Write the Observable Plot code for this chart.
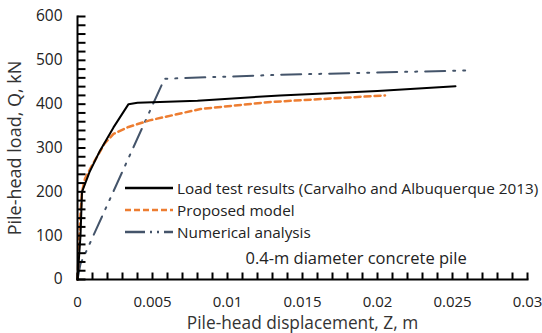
<!DOCTYPE html>
<html>
<head>
<meta charset="utf-8">
<script src="https://cdn.jsdelivr.net/npm/d3@7"></script>
<script src="https://cdn.jsdelivr.net/npm/@observablehq/plot@0.6"></script>
<style>
  html, body { margin: 0; padding: 0; background: #fff; }
  #chart { position: relative; width: 542px; height: 333px; font-family: "Open Sans", sans-serif; background: #fff; }
  #chart svg { font-family: "Open Sans", sans-serif; color: #222; }
  #legend { position: absolute; left: 125px; top: 177px; width: 417px; font-size: 15.3px; color: #222; }
  #legend .row { display: flex; align-items: center; height: 22px; white-space: nowrap; }
  #legend svg { width: 48px; height: 10px; margin-right: 4px; flex: none; }
</style>
</head>
<body>
<div id="chart"></div>
<script>
// Load test results (Carvalho and Albuquerque 2013)
const loadZ = [0, 0.0001, 0.0002, 0.0003, 0.0008, 0.0015, 0.0024, 0.0034, 0.004, 0.008, 0.0135, 0.02, 0.0252];
const loadQ = [0, 50, 100, 200, 245, 294, 347, 400, 403, 408, 420, 430, 441];
// Proposed model
const propZ = [0, 0.0001, 0.0002, 0.0003, 0.0005, 0.0009, 0.0018, 0.0024, 0.0034, 0.0048, 0.0082, 0.0129, 0.0205];
const propQ = [0, 80, 150, 200, 230, 256, 310, 332, 348, 363, 389, 405, 420];
// Numerical analysis
const numZ = [0, 0.0002, 0.0005, 0.0058, 0.0135, 0.026];
const numQ = [0, 36, 58, 458, 467, 477];

const xTicks = [0, 0.005, 0.01, 0.015, 0.02, 0.025, 0.03];
const xMinor = d3.range(0, 31).map(i => i / 1000);
const yTicks = [0, 100, 200, 300, 400, 500, 600];
const yMinor = d3.range(0, 601, 20);

const seriesNames = ["Load test results (Carvalho and Albuquerque 2013)", "Proposed model", "Numerical analysis"];
const xLabel = "Pile-head displacement, Z, m";
const yLabel = "Pile-head load, Q, kN";
const note = "0.4-m diameter concrete pile";

const toRows = (zs, qs) => zs.map((z, i) => ({z, q: qs[i]}));
const load = toRows(loadZ, loadQ);
const prop = toRows(propZ, propQ);
const num = toRows(numZ, numQ);

const W = 542, H = 333, ML = 77, MR = 15, MT = 16, MB = 54;
const xDomain = [0, 0.03], yDomain = [0, 600];
// tick lengths converted from pixels to data units via the scale spans
const xTickLen = 7 * (yDomain[1] - yDomain[0]) / (H - MT - MB);
const yTickLen = 8 * (xDomain[1] - xDomain[0]) / (W - ML - MR);

const plot = Plot.plot({
  width: W,
  height: H,
  marginLeft: ML,
  marginRight: MR,
  marginTop: MT,
  marginBottom: MB,
  x: {domain: xDomain},
  y: {domain: yDomain},
  marks: [
    Plot.axisX({ticks: xTicks, tickSize: 0, tickPadding: 17, tickFormat: d => String(d), label: null, fontSize: 15}),
    Plot.axisY({ticks: yTicks, tickSize: 0, tickPadding: 15, label: null, fontSize: 15.5}),
    Plot.line(num, {x: "z", y: "q", stroke: "#44546A", strokeWidth: 2, strokeDasharray: "20,8,2,8,2,8"}),
    Plot.line(prop, {x: "z", y: "q", stroke: "#ED7D31", strokeWidth: 2.5, strokeDasharray: "6,4"}),
    Plot.line(load, {x: "z", y: "q", stroke: "#000", strokeWidth: 2}),
    Plot.frame({anchor: "left", stroke: "black", strokeWidth: 2}),
    Plot.frame({anchor: "bottom", stroke: "black", strokeWidth: 2}),
    Plot.link(xMinor, {x1: d => d, x2: d => d, y1: yDomain[0], y2: yDomain[0] + xTickLen, stroke: "black", strokeWidth: 2}),
    Plot.link(yMinor, {y1: d => d, y2: d => d, x1: xDomain[0], x2: xDomain[0] + yTickLen, stroke: "black", strokeWidth: 2}),
    Plot.text([xLabel], {frameAnchor: "bottom", dy: 44, lineAnchor: "middle", textAnchor: "middle", fontSize: 17.3, fill: "#333"}),
    Plot.text([yLabel], {frameAnchor: "left", dx: -62, rotate: -90, textAnchor: "middle", lineAnchor: "middle", fontSize: 18, fill: "#333"}),
    Plot.text([note], {frameAnchor: "top-left", dx: 168, dy: 242, textAnchor: "start", lineAnchor: "middle", fontSize: 16.5, fill: "#222"})
  ]
});

const chart = document.getElementById("chart");
chart.appendChild(plot);

const swatches = [
  {stroke: "#000", width: 2.5, dash: null},
  {stroke: "#ED7D31", width: 2.5, dash: "6,3"},
  {stroke: "#44546A", width: 2.5, dash: "20,5,2,5,2,5"}
];
const legend = document.createElement("div");
legend.id = "legend";
seriesNames.forEach((name, i) => {
  const row = document.createElement("div");
  row.className = "row";
  const s = swatches[i];
  row.innerHTML = `<svg viewBox="0 0 48 10"><line x1="0" y1="5" x2="48" y2="5" stroke="${s.stroke}" stroke-width="${s.width}" ${s.dash ? `stroke-dasharray="${s.dash}"` : ""}/></svg><span></span>`;
  row.querySelector("span").textContent = name;
  legend.appendChild(row);
});
chart.appendChild(legend);
</script>
</body>
</html>
